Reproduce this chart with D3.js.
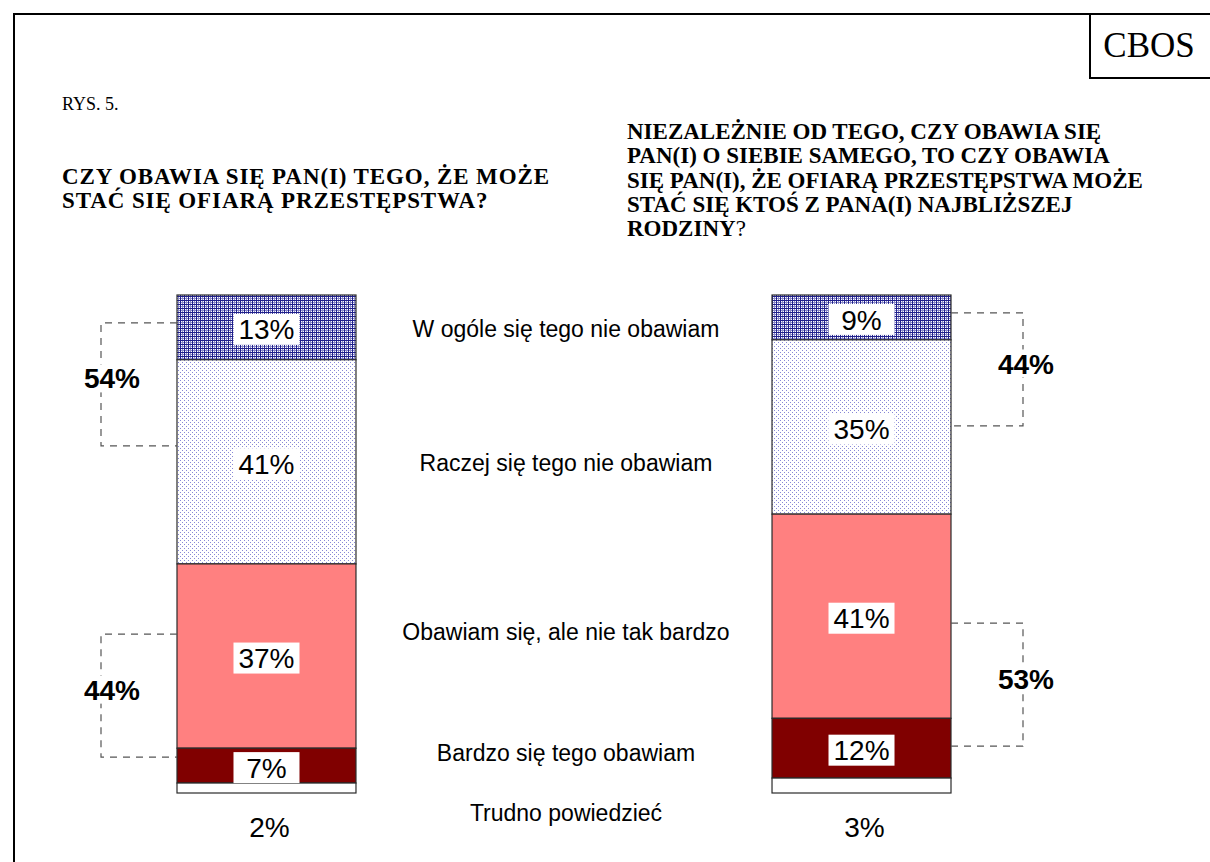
<!DOCTYPE html>
<html>
<head>
<meta charset="utf-8">
<script src="https://cdn.jsdelivr.net/npm/d3@7"></script>
<style>
body { margin: 0; background: #fff; }
</style>
</head>
<body>
<div id="chart"></div>
<script>
// answers, top to bottom of each bar
var categories = ["W ogóle się tego nie obawiam", "Raczej się tego nie obawiam",
    "Obawiam się, ale nie tak bardzo", "Bardzo się tego obawiam", "Trudno powiedzieć"];
var questions = ["siebie", "rodzina"];
var selfValues = [13, 41, 37, 7, 2];
var familyValues = [9, 35, 41, 12, 3];
// which answers are summed in the dashed brackets
var bracketGroups = [[0, 1], [2, 3]];

var titleLeft = ["CZY OBAWIA SIĘ PAN(I) TEGO, ŻE MOŻE", "STAĆ SIĘ OFIARĄ PRZESTĘPSTWA?"];
var titleRight = ["NIEZALEŻNIE OD TEGO, CZY OBAWIA SIĘ", "PAN(I) O SIEBIE SAMEGO, TO CZY OBAWIA",
    "SIĘ PAN(I), ŻE OFIARĄ PRZESTĘPSTWA MOŻE", "STAĆ SIĘ KTOŚ Z PANA(I) NAJBLIŻSZEJ", "RODZINY"];

// layout only (positions on the percent axis of the bars)
var bracketSpans = [[[5.6, 30.3], [68.1, 92.8]], [[3.6, 26.3], [65.9, 90.6]]];
var categoryRows = [6.8, 33.7, 67.7, 92, 104];

var width = 1210, height = 862;
var fills = ["url(#grid)", "url(#dots)", "#ff8080", "#800000", "#ffffff"];

var svg = d3.select("#chart").append("svg")
    .attr("width", width)
    .attr("height", height)
    .style("display", "block");

var defs = svg.append("defs");
var grid = defs.append("pattern").attr("id", "grid")
    .attr("patternUnits", "userSpaceOnUse").attr("width", 4).attr("height", 4);
grid.append("rect").attr("width", 4).attr("height", 4).attr("fill", "#fff");
grid.append("rect").attr("x", 0).attr("y", 2).attr("width", 4).attr("height", 1).attr("fill", "#8a8ac8");
grid.append("rect").attr("x", 2).attr("y", 0).attr("width", 1).attr("height", 4).attr("fill", "#8a8ac8");
grid.append("rect").attr("x", 0).attr("y", 0).attr("width", 4).attr("height", 1).attr("fill", "#20208c");
grid.append("rect").attr("x", 0).attr("y", 0).attr("width", 1).attr("height", 4).attr("fill", "#20208c");

var dots = defs.append("pattern").attr("id", "dots")
    .attr("patternUnits", "userSpaceOnUse").attr("width", 4).attr("height", 4);
dots.append("rect").attr("width", 4).attr("height", 4).attr("fill", "#fff");
dots.append("rect").attr("x", 0).attr("y", 0).attr("width", 1).attr("height", 1).attr("fill", "#8888d6");
dots.append("rect").attr("x", 2).attr("y", 2).attr("width", 1).attr("height", 1).attr("fill", "#8888d6");

// frame
svg.append("path")
    .attr("d", "M14," + height + "V14H" + width)
    .attr("fill", "none").attr("stroke", "#000").attr("stroke-width", 2);
svg.append("path")
    .attr("d", "M1090,14V78H" + width)
    .attr("fill", "none").attr("stroke", "#000").attr("stroke-width", 2);
svg.append("text").attr("x", 1149).attr("y", 57)
    .attr("text-anchor", "middle")
    .style("font-family", "'Liberation Serif', 'Times New Roman', serif")
    .style("font-size", "35px")
    .text("CBOS");

svg.append("text").attr("x", 62).attr("y", 110)
    .style("font-family", "'Liberation Serif', 'Times New Roman', serif")
    .style("font-size", "18px")
    .text("RYS. 5.");

var serifBold = function(sel) {
    sel.style("font-family", "'Liberation Serif', 'Times New Roman', serif")
        .style("font-size", "23px")
        .style("font-weight", "bold");
};
svg.append("g").selectAll("text")
    .data(titleLeft)
    .enter().append("text")
    .attr("x", 62)
    .attr("y", function(d, i) { return 184 + i * 24.3; })
    .call(serifBold)
    .style("letter-spacing", "0.9px")
    .text(function(d) { return d; });

var tr = svg.append("g").selectAll("text")
    .data(titleRight)
    .enter().append("text")
    .attr("x", 627)
    .attr("y", function(d, i) { return 139 + i * 24.3; })
    .call(serifBold)
    .text(function(d) { return d; });
tr.filter(function(d, i) { return i == titleRight.length - 1; })
    .append("tspan").style("font-weight", "normal").text("?");

// scales
var x = d3.scaleBand()
    .domain(questions)
    .range([177, 951])
    .paddingInner(0.6992)
    .paddingOuter(0);
var y = d3.scaleLinear().domain([0, 100]).range([295, 793]);

var bars = [selfValues, familyValues].map(function(vals, b) {
    var acc = 0;
    return vals.map(function(v, i) {
        var seg = { bar: questions[b], idx: i, value: v, y0: acc, y1: acc + v };
        acc += v;
        return seg;
    });
});

var arial = "Arial, 'Liberation Sans', Helvetica, sans-serif";

bars.forEach(function(segs, b) {
    var g = svg.append("g");
    var x0 = x(questions[b]), bw = x.bandwidth(), cx = x0 + bw / 2;

    g.selectAll("rect.seg")
        .data(segs)
        .enter().append("rect")
        .attr("class", "seg")
        .attr("x", x0)
        .attr("y", function(d) { return y(d.y0); })
        .attr("width", bw)
        .attr("height", function(d) { return y(d.y1) - y(d.y0); })
        .attr("fill", function(d) { return fills[d.idx]; })
        .attr("stroke", "#2a2a2a")
        .attr("stroke-width", 1.2);

    var inner = segs.filter(function(d) { return d.idx < segs.length - 1; });
    var lab = g.selectAll("g.lab")
        .data(inner)
        .enter().append("g")
        .attr("class", "lab")
        .attr("transform", function(d) {
            return "translate(" + cx + "," + ((y(d.y0) + y(d.y1)) / 2 + 2) + ")";
        });
    lab.append("rect")
        .attr("x", -33).attr("y", -15.5)
        .attr("width", 66).attr("height", 31)
        .attr("fill", "#fff");
    lab.append("text")
        .attr("text-anchor", "middle")
        .attr("dy", "0.36em")
        .style("font-family", arial)
        .style("font-size", "28px")
        .text(function(d) { return d.value + "%"; });

    var last = segs[segs.length - 1];
    g.append("text")
        .attr("x", cx + 3)
        .attr("y", y(100) + 34)
        .attr("dy", "0.36em")
        .attr("text-anchor", "middle")
        .style("font-family", arial)
        .style("font-size", "28px")
        .text(last.value + "%");

    // dashed brackets with summed shares
    var left = b == 0;
    var edge = left ? x0 : x0 + bw;
    var xv = left ? x0 - 76 : x0 + bw + 72;
    bracketGroups.forEach(function(grp, k) {
        var span = bracketSpans[b][k];
        var ya = y(span[0]), yb = y(span[1]);
        var total = d3.sum(grp, function(i) { return segs[i].value; });
        g.append("path")
            .attr("d", "M" + edge + "," + ya + "H" + xv + "V" + yb + "H" + edge)
            .attr("fill", "none")
            .attr("stroke", "#555")
            .attr("stroke-width", 1.2)
            .attr("stroke-dasharray", "7,6");
        var ly = (ya + yb) / 2 - 6;
        var lx = left ? xv + 11 : xv + 3;
        g.append("rect")
            .attr("x", lx - 31).attr("y", ly - 14)
            .attr("width", 62).attr("height", 28)
            .attr("fill", "#fff");
        g.append("text")
            .attr("x", lx).attr("y", ly)
            .attr("dy", "0.36em")
            .attr("text-anchor", "middle")
            .style("font-family", arial)
            .style("font-size", "28px")
            .style("font-weight", "bold")
            .text(total + "%");
    });
});

// answer labels between the bars
svg.append("g").selectAll("text")
    .data(categories)
    .enter().append("text")
    .attr("x", 566)
    .attr("y", function(d, i) { return y(categoryRows[i]); })
    .attr("dy", "0.36em")
    .attr("text-anchor", "middle")
    .style("font-family", arial)
    .style("font-size", "23px")
    .text(function(d) { return d; });
</script>
</body>
</html>
